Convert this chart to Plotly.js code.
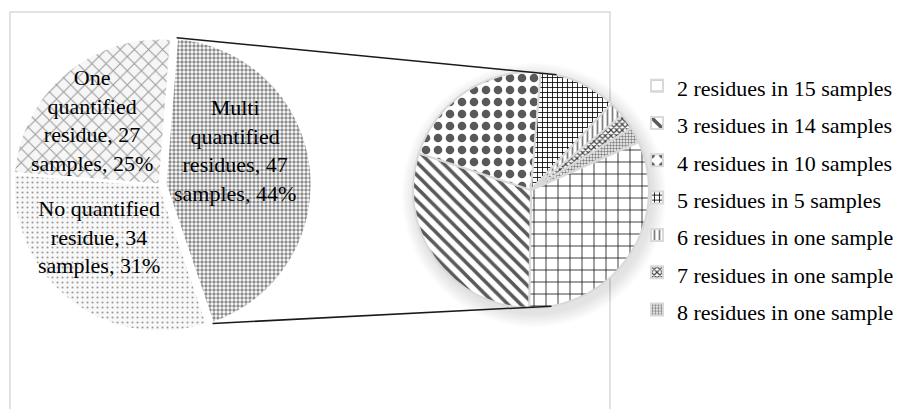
<!DOCTYPE html>
<html><head><meta charset="utf-8">
<script src="https://cdn.plot.ly/plotly-3.0.1.min.js"></script>
<style>html,body{margin:0;padding:0;background:#fff;}#chart{width:908px;height:409px;}</style>
</head><body><div id="chart"></div>
<script>
// ---- data ----
const mainCategories = ['Multi quantified residues', 'No quantified residue', 'One quantified residue'];
const mainLabelLines = ['Multi<br>quantified<br>residues', 'No quantified<br>residue', 'One<br>quantified<br>residue'];
const mainValues = [47, 34, 27];

const subCategories = ['2 residues in 15 samples', '3 residues in 14 samples', '4 residues in 10 samples',
  '5 residues in 5 samples', '6 residues in one sample', '7 residues in one sample', '8 residues in one sample'];
const subValues = [15, 14, 10, 5, 1, 1, 1];

// ---- geometry / style ----
const W = 908, H = 409;
const main = {cx: 160, cy: 185, r: 147, rot: 4.5, pull: 0.035};
const sub = {cx: 531, cy: 190, r: 118, rot: 66};
const serif = 'Liberation Serif, Times New Roman, serif';
// label placement relative to each slice's bisector: radius fraction and angular shift (deg)
const labelPlace = [{f: 0.53, dth: -19}, {f: 0.545, dth: 11.7}, {f: 0.64, dth: -5.8}];

const total = mainValues.reduce((a, b) => a + b, 0);
const mainText = mainValues.map((v, i) => mainLabelLines[i] + ', ' + v + '<br>samples, ' + Math.round(v / total * 100) + '%');

function px(x) { return x / W; }
function py(y) { return 1 - y / H; }
function domainFor(cx, cy, half) {
  return {x: [px(cx - half), px(cx + half)], y: [py(cy + half), py(cy - half)]};
}

const mainTrace = {
  type: 'pie', values: mainValues, labels: mainCategories, textinfo: 'none',
  sort: false, direction: 'clockwise', rotation: main.rot,
  pull: mainValues.map((v, i) => i === 0 ? main.pull : 0),
  domain: domainFor(main.cx, main.cy, main.r * (1 + main.pull)),
  marker: {
    colors: ['#ffffff', '#f8f8f8', '#f6f6f6'],
    line: {color: '#ffffff', width: 3},
    pattern: {shape: ['.', '.', 'x'], fgcolor: ['#8c8c8c', '#9a9a9a', '#9c9c9c'],
      bgcolor: ['#ffffff', '#f8f8f8', '#f6f6f6'], size: [4, 5, 10], solidity: [0.55, 0.14, 0.2], fillmode: 'replace'}
  },
  showlegend: false, hoverinfo: 'none'
};

const subTrace = {
  type: 'pie', values: subValues,
  labels: subCategories.map(s => '<span style="font-size:22px">' + s + '</span>'),
  textinfo: 'none', sort: false, direction: 'clockwise', rotation: sub.rot,
  domain: domainFor(sub.cx, sub.cy, sub.r),
  marker: {
    colors: ['#ffffff', '#ffffff', '#ffffff', '#ffffff', '#ffffff', '#ffffff', '#ffffff'],
    line: {color: '#d9d9d9', width: 2},
    pattern: {
      shape: ['+', '\\', '.', '+', '|', 'x', '.'],
      fgcolor: ['#000000', '#595959', '#595959', '#000000', '#7f7f7f', '#404040', '#7f7f7f'],
      bgcolor: '#ffffff',
      size: [12, 9, 12, 5, 5, 4, 3],
      solidity: [0.12, 0.4, 0.4, 0.3, 0.35, 0.5, 0.5],
      fillmode: 'replace'
    }
  },
  showlegend: true, hoverinfo: 'none'
};

// slice angles
const d2r = Math.PI / 180;
const starts = [], ends = [];
let acc = main.rot;
mainValues.forEach(v => { starts.push(acc); acc += 360 * v / total; ends.push(acc); });
const mids = starts.map((s, i) => (s + ends[i]) / 2);

// connector lines from the exploded slice to the secondary pie
const a0 = starts[0] * d2r, a1 = ends[0] * d2r, am = mids[0] * d2r;
const pc = {x: main.cx + main.pull * main.r * Math.sin(am), y: main.cy - main.pull * main.r * Math.cos(am)};
const p0 = {x: pc.x + main.r * Math.sin(a0), y: pc.y - main.r * Math.cos(a0)};
const p1 = {x: pc.x + main.r * Math.sin(a1), y: pc.y - main.r * Math.cos(a1)};
const t0 = 12.5 * d2r, t1 = 170 * d2r;
const q0 = {x: sub.cx + sub.r * Math.sin(t0), y: sub.cy - sub.r * Math.cos(t0)};
const q1 = {x: sub.cx + sub.r * Math.sin(t1), y: sub.cy - sub.r * Math.cos(t1)};

// data labels of main pie
const annotations = mainValues.map((v, i) => {
  const c = i === 0 ? pc : {x: main.cx, y: main.cy};
  const th = (mids[i] + labelPlace[i].dth) * d2r;
  const rr = labelPlace[i].f * main.r;
  return {xref: 'paper', yref: 'paper', x: px(c.x + rr * Math.sin(th)), y: py(c.y - rr * Math.cos(th)),
    xanchor: 'center', yanchor: 'middle', showarrow: false, text: mainText[i], align: 'center',
    font: {family: serif, size: 22, color: '#000'}};
});

const shapes = [
  {type: 'rect', xref: 'paper', yref: 'paper', x0: px(10), x1: px(610), y0: py(440), y1: py(12),
   line: {color: '#d9d9d9', width: 1.5}, layer: 'below'}
];
for (let k = 1; k <= 7; k++) {
  const rr = sub.r + 2 * k;
  shapes.push({type: 'circle', xref: 'paper', yref: 'paper', layer: 'below',
    x0: px(sub.cx + 3 - rr), x1: px(sub.cx + 3 + rr), y0: py(sub.cy + 5 + rr), y1: py(sub.cy + 5 - rr),
    fillcolor: 'rgba(0,0,0,0.014)', line: {width: 0}});
}
shapes.push({type: 'line', xref: 'paper', yref: 'paper', x0: px(p0.x), y0: py(p0.y), x1: px(q0.x), y1: py(q0.y),
  line: {color: '#1a1a1a', width: 1.5}});
shapes.push({type: 'line', xref: 'paper', yref: 'paper', x0: px(p1.x), y0: py(p1.y), x1: px(q1.x), y1: py(q1.y),
  line: {color: '#1a1a1a', width: 1.5}});

const layout = {
  width: W, height: H, margin: {l: 0, r: 0, t: 0, b: 0},
  paper_bgcolor: '#ffffff', plot_bgcolor: '#ffffff',
  font: {family: serif, color: '#000'},
  showlegend: true,
  legend: {x: px(637), y: py(62), xanchor: 'left', yanchor: 'top', bgcolor: 'rgba(0,0,0,0)',
    font: {family: serif, size: 26.4, color: '#000'}, itemclick: false, itemdoubleclick: false},
  shapes: shapes,
  annotations: annotations
};

Plotly.newPlot('chart', [mainTrace, subTrace], layout, {displayModeBar: false, staticPlot: true});
</script>
</body></html>
